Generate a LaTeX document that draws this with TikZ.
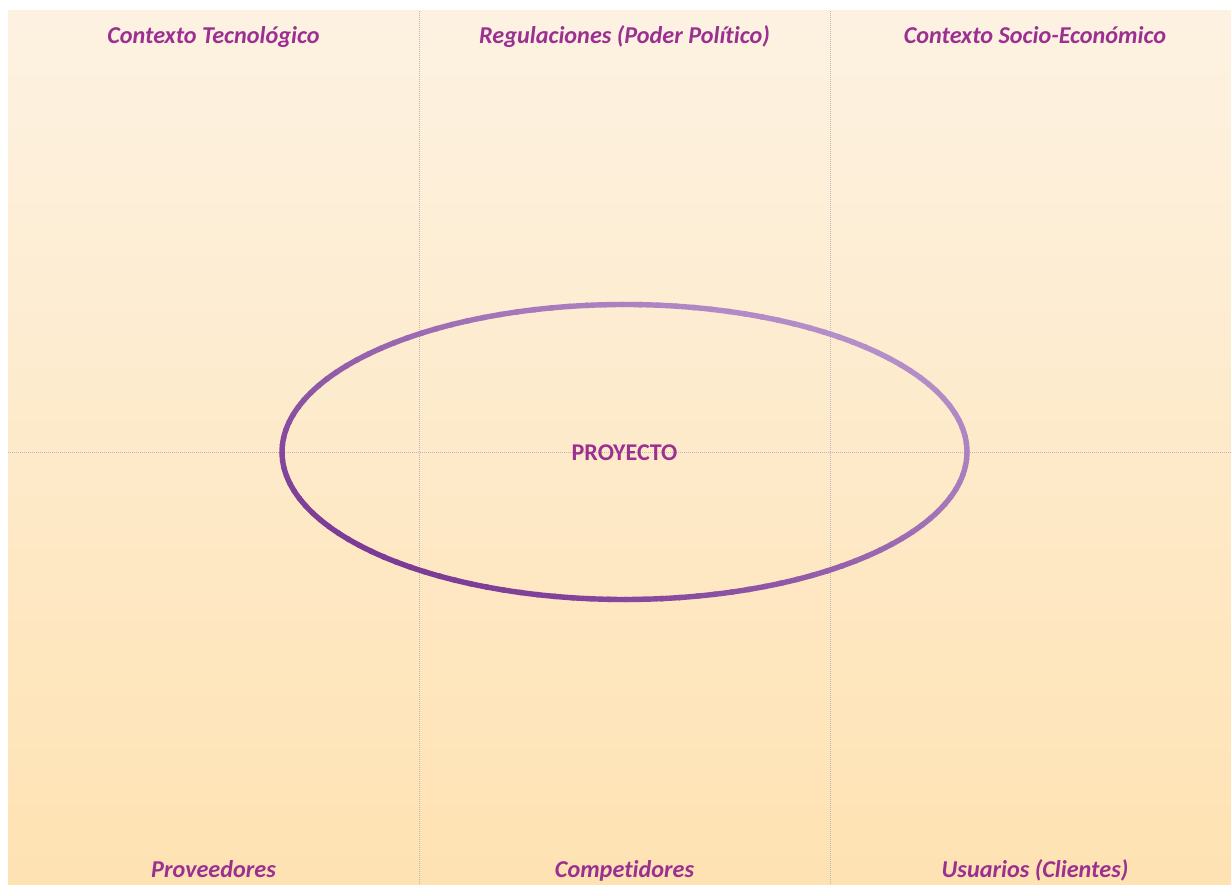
\documentclass[tikz,border=0pt]{standalone}
\usepackage{fontspec}
\setmainfont{Carlito}[Ligatures=NoCommon]
\definecolor{txtpurple}{RGB}{155,48,145}
\definecolor{ringdark}{RGB}{124,60,150}
\definecolor{ringlight}{RGB}{180,142,200}
\definecolor{bgtop}{RGB}{253,242,226}
\definecolor{bgbot}{RGB}{254,226,178}
\definecolor{gridgray}{RGB}{185,185,185}
\tikzset{
  label/.style={font=\fontsize{24.2}{28}\selectfont\bfseries\itshape, text=txtpurple, anchor=base, inner sep=0pt},
  center label/.style={font=\fontsize{24}{28}\selectfont\bfseries, text=txtpurple, anchor=base, inner sep=0pt},
  gridline/.style={draw=gridgray, line width=0.8pt, dash pattern=on 1pt off 1pt}
}
\begin{document}
\begin{tikzpicture}[x=1pt,y=1pt]
\useasboundingbox (0,0) rectangle (1231,885);
\shade[top color=bgtop, bottom color=bgbot] (8,0) rectangle (1231,874);
\coordinate (vt1) at (419,874); \coordinate (vb1) at (419,0);
\coordinate (vt2) at (830,874); \coordinate (vb2) at (830,0);
\coordinate (hl) at (8,433); \coordinate (hr) at (1231,433);
\draw[gridline] (vt1) -- (vb1);
\draw[gridline] (vt2) -- (vb2);
\draw[gridline] (hl) -- (hr);
\coordinate (ec) at (624.5,433);
\foreach \a in {0,3,...,357}{
  \pgfmathsetmacro{\f}{50+50*cos(\a+1.5-45)}
  \draw[line width=5.4pt, color=ringlight!\f!ringdark]
    (ec) ++(\a:342.5 and 147.5) arc[start angle=\a, end angle=\a+3.6, x radius=342.5, y radius=147.5];
}
\node[center label] (proj) at (624.5,424.5) {PROYECTO};
\node[label] (t1) at (213.5,841.5) {Contexto Tecnológico};
\node[label] (t2) at (624.5,841.5) {Regulaciones (Poder Político)};
\node[label] (t3) at (1035,841.5) {Contexto Socio-Económico};
\node[label] (b1) at (213.5,7.3) {Proveedores};
\node[label] (b2) at (624.5,7.3) {Competidores};
\node[label] (b3) at (1035,7.3) {Usuarios (Clientes)};
\end{tikzpicture}
\end{document}
